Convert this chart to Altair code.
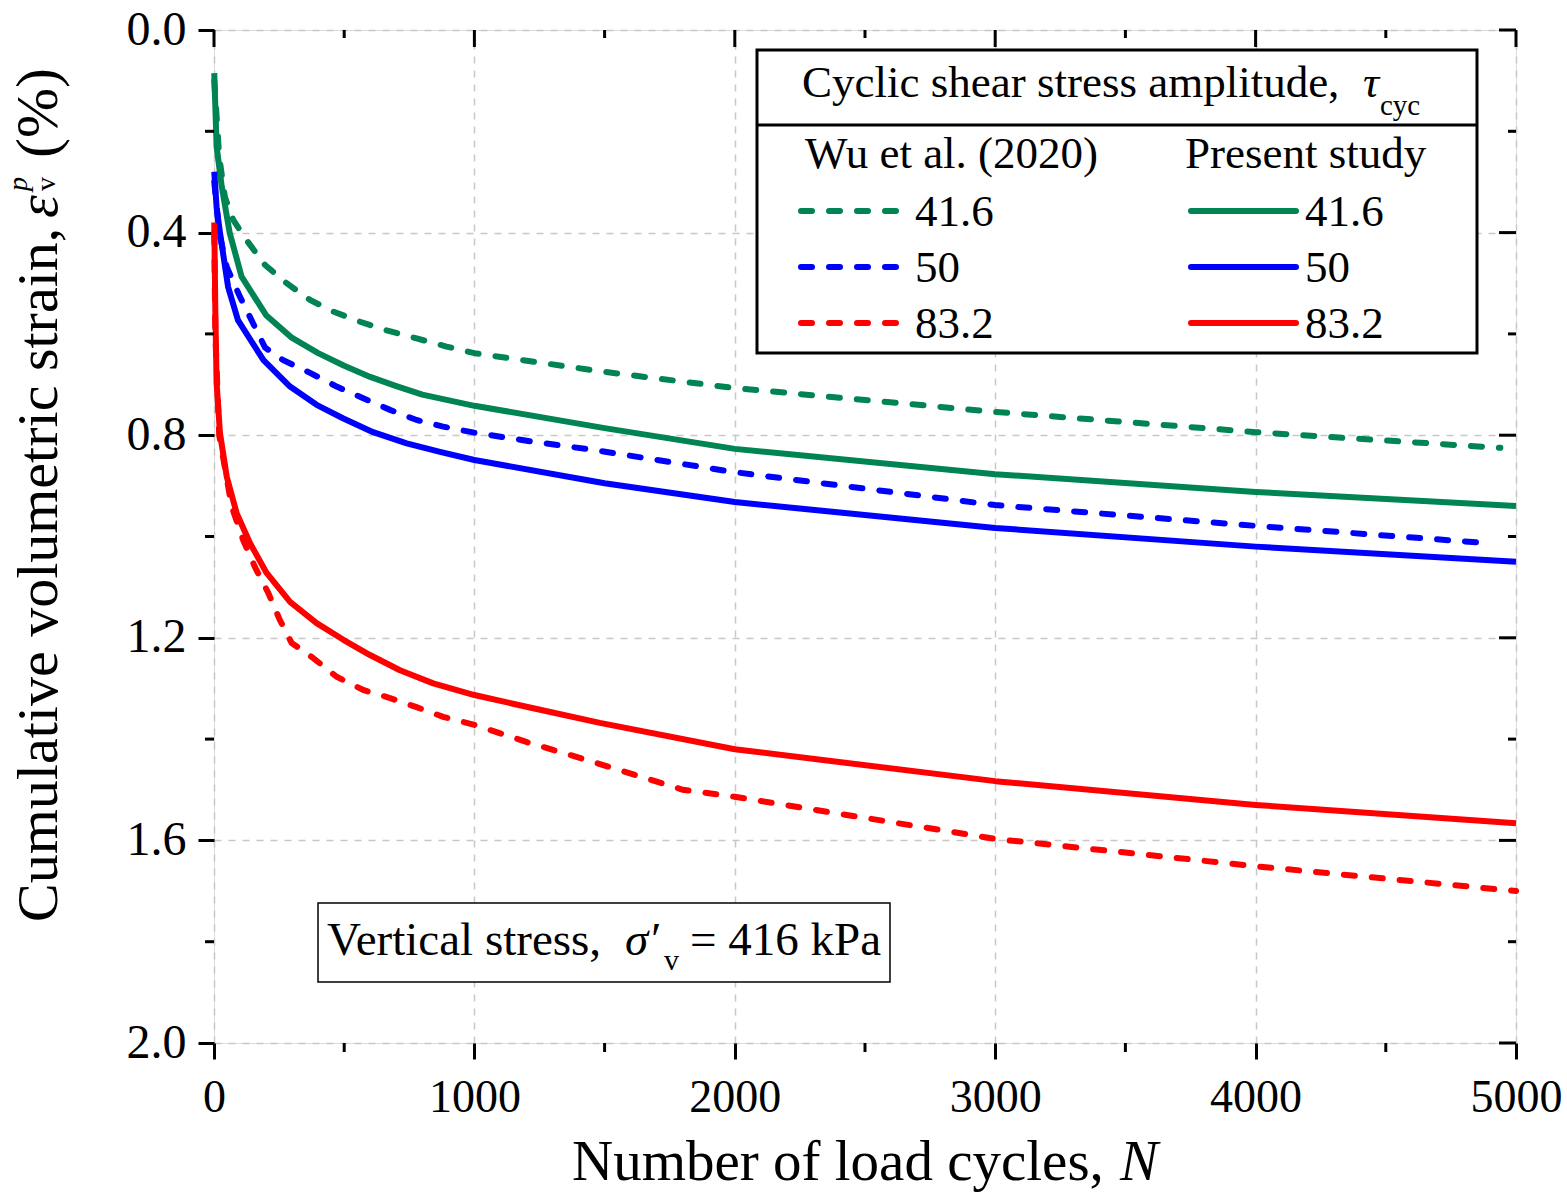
import altair as alt
import pandas as pd

# ---------------- data ----------------
tau_levels = ["41.6", "50", "83.2"]
colors = ["#008453", "#0000FF", "#FF0000"]

# Present study (solid)
ps_416_N = [1, 10, 30, 60, 106, 200, 300, 400, 500, 600, 700, 800, 1000, 1500, 2000, 3000, 4000, 5000]
ps_416_s = [0.085, 0.23, 0.31, 0.40, 0.487, 0.563, 0.608, 0.638, 0.663, 0.685, 0.703, 0.72, 0.742, 0.786, 0.827, 0.877, 0.912, 0.94]

ps_50_N = [1, 10, 23, 54, 92, 190, 292, 394, 497, 611, 740, 868, 1000, 1500, 2000, 3000, 4000, 5000]
ps_50_s = [0.28, 0.35, 0.40, 0.507, 0.573, 0.652, 0.704, 0.74, 0.767, 0.794, 0.816, 0.833, 0.849, 0.895, 0.932, 0.983, 1.02, 1.05]

ps_832_N = [1, 5, 10, 23, 49, 87, 138, 202, 292, 394, 497, 599, 714, 842, 1000, 1226, 1482, 2000, 3000, 4000, 5000]
ps_832_s = [0.38, 0.55, 0.697, 0.796, 0.882, 0.954, 1.013, 1.072, 1.129, 1.171, 1.204, 1.234, 1.264, 1.29, 1.313, 1.339, 1.368, 1.42, 1.483, 1.530, 1.566]

# Wu et al. (2020) (dashed)
wu_416_N = [1, 20, 42, 74, 125, 196, 279, 369, 458, 561, 663, 778, 893, 1000, 1500, 2000, 3000, 4000, 4940]
wu_416_s = [0.10, 0.25, 0.33, 0.375, 0.415, 0.464, 0.50, 0.533, 0.556, 0.576, 0.593, 0.609, 0.625, 0.638, 0.675, 0.707, 0.754, 0.794, 0.825]

wu_50_N = [1, 20, 49, 100, 196, 266, 369, 471, 573, 676, 778, 880, 1000, 1226, 1456, 2000, 3000, 4000, 4890]
wu_50_s = [0.30, 0.40, 0.468, 0.527, 0.627, 0.652, 0.677, 0.704, 0.727, 0.75, 0.77, 0.783, 0.795, 0.813, 0.829, 0.873, 0.938, 0.979, 1.013]

wu_832_N = [1, 5, 20, 68, 112, 157, 209, 253, 298, 381, 471, 573, 676, 778, 880, 1000, 1202, 1456, 1800, 2000, 3000, 4000, 5000]
wu_832_s = [0.40, 0.60, 0.80, 0.941, 1.007, 1.06, 1.112, 1.165, 1.21, 1.24, 1.277, 1.303, 1.319, 1.337, 1.356, 1.372, 1.406, 1.445, 1.50, 1.514, 1.597, 1.651, 1.70]

x_major = [0, 1000, 2000, 3000, 4000, 5000]
x_minor = [500, 1500, 2500, 3500, 4500]
y_major = [0.0, 0.4, 0.8, 1.2, 1.6, 2.0]
y_minor = [0.2, 0.6, 1.0, 1.4, 1.8]

# ---------------- build tables ----------------
def series(Ns, ss, tau):
    return pd.DataFrame({"N": Ns, "s": ss, "tau": tau})

present = pd.concat([series(ps_416_N, ps_416_s, "41.6"),
                     series(ps_50_N, ps_50_s, "50"),
                     series(ps_832_N, ps_832_s, "83.2")])
wu = pd.concat([series(wu_416_N, wu_416_s, "41.6"),
                series(wu_50_N, wu_50_s, "50"),
                series(wu_832_N, wu_832_s, "83.2")])

FONT = "Liberation Serif"
W, H = 1302, 1013
xs = alt.Scale(domain=[0, 5000], nice=False, zero=False)
ys = alt.Scale(domain=[0, 2], reverse=True, nice=False, zero=False)
cs = alt.Scale(domain=tau_levels, range=colors)
LW = 6
DASH = [11, 17]

x_axis = alt.Axis(values=x_major, format="d", title=None, tickSize=16, tickWidth=3,
                  tickColor="black", labelFontSize=46, labelFont=FONT, labelColor="black",
                  labelPadding=16, labelFlush=False, labelOverlap=False, domain=False,
                  grid=True, gridDash=[7, 7], gridColor="#c8c8c8", gridWidth=1.5)
y_axis = alt.Axis(values=y_major, format=".1f", title=None, tickSize=16, tickWidth=3,
                  tickColor="black", labelFontSize=48, labelFont=FONT, labelColor="black",
                  labelPadding=12, labelFlush=False, labelOverlap=False, domain=False,
                  grid=True, gridDash=[7, 7], gridColor="#c8c8c8", gridWidth=1.5)

solid = alt.Chart(present).mark_line(strokeWidth=LW, strokeCap="butt", strokeJoin="round").encode(
    x=alt.X("N:Q", scale=xs, axis=x_axis),
    y=alt.Y("s:Q", scale=ys, axis=y_axis),
    color=alt.Color("tau:N", scale=cs, legend=None),
)
dashed = alt.Chart(wu).mark_line(strokeWidth=LW, strokeDash=DASH, strokeCap="round").encode(
    x=alt.X("N:Q", scale=xs, axis=x_axis),
    y=alt.Y("s:Q", scale=ys, axis=y_axis),
    color=alt.Color("tau:N", scale=cs, legend=None),
)

layers = [solid, dashed]

# ---------------- extra ticks (minor, mirrored top/right) ----------------
def xticks(vals, y0, y1):
    return alt.Chart(pd.DataFrame({"N": vals})).mark_rule(color="black", strokeWidth=3).encode(
        x=alt.X("N:Q", scale=xs, axis=x_axis), y=alt.value(y0), y2=alt.value(y1))

def yticks(vals, x0, x1):
    return alt.Chart(pd.DataFrame({"s": vals})).mark_rule(color="black", strokeWidth=3).encode(
        y=alt.Y("s:Q", scale=ys, axis=y_axis), x=alt.value(x0), x2=alt.value(x1))

layers += [
    xticks(x_minor, H, H + 9),          # bottom minor (outward)
    xticks(x_major, 0, 17),             # top major (inward)
    xticks(x_minor, 0, 8),              # top minor (inward)
    yticks(y_minor, 0, -9),             # left minor (outward)
    yticks(y_major, W, W - 17),         # right major (inward)
    yticks(y_minor, W, W - 8),          # right minor (inward)
]

# ---------------- helpers for annotation text ----------------
def txt(s, x, y, size, italic=False, angle=0, align="left"):
    kw = dict(font=FONT, fontSize=size, color="black", align=align, baseline="alphabetic")
    if italic:
        kw["fontStyle"] = "italic"
    if angle:
        kw["angle"] = angle
    return alt.Chart(pd.DataFrame({"t": [s]})).mark_text(**kw).encode(
        x=alt.value(x), y=alt.value(y), text="t:N")

def box(x0, x1, y0, y1, sw=2.5):
    return alt.Chart(pd.DataFrame({"a": [0]})).mark_rect(fill="white", stroke="black", strokeWidth=sw).encode(
        x=alt.value(x0), x2=alt.value(x1), y=alt.value(y0), y2=alt.value(y1))

# axis titles
layers += [
    txt("Number of load cycles,", 358, 1150, 57),
    txt("N", 906, 1150, 57, italic=True),
    txt("Cumulative volumetric strain,", -157, 892, 58, angle=270),
    txt("\u03b5", -157, 188, 58, italic=True, angle=270),
    txt("p", -187, 161, 28, italic=True, angle=270),
    txt("v", -159, 161, 28, angle=270),
    txt("(%)", -157, 128, 60, angle=270),
]

# legend box
layers += [
    box(543, 1263, 20, 323, 3),
    alt.Chart(pd.DataFrame({"a": [0]})).mark_rule(color="black", strokeWidth=3).encode(
        x=alt.value(543), x2=alt.value(1263), y=alt.value(95)),
    txt("Cyclic shear stress amplitude,", 588, 67, 45),
    txt("\u03c4", 1149, 67, 45, italic=True),
    txt("cyc", 1166, 85, 29),
    txt("Wu et al. (2020)", 591, 138, 45),
    txt("Present study", 971, 138, 45),
]
row_y = [181, 237, 293]
for lab, col, ry in zip(tau_levels, colors, row_y):
    layers.append(alt.Chart(pd.DataFrame({"a": [0]})).mark_rule(
        color=col, strokeWidth=LW, strokeDash=DASH, strokeCap="round").encode(
        x=alt.value(587), x2=alt.value(687), y=alt.value(ry)))
    layers.append(alt.Chart(pd.DataFrame({"a": [0]})).mark_rule(
        color=col, strokeWidth=LW, strokeCap="round").encode(
        x=alt.value(977), x2=alt.value(1082), y=alt.value(ry)))
    layers.append(txt(lab, 701, ry + 15, 45))
    layers.append(txt(lab, 1091, ry + 15, 45))

# vertical stress annotation
layers += [
    box(104, 676, 873, 952, 1.5),
    txt("Vertical stress,", 113, 925, 47),
    txt("\u03c3\u2032", 411, 925, 47, italic=True),
    txt("v", 450, 940, 30),
    txt("= 416 kPa", 476, 925, 47),
]

chart = alt.layer(*layers).properties(
    width=W, height=H,
    padding={"left": 214, "top": 30, "right": 51, "bottom": 149},
    autosize=alt.AutoSizeParams(type="none"),
    background="white",
).configure_view(stroke="black", strokeWidth=3).configure(font=FONT)

chart.save("out.html", embed_options={"renderer": "svg", "actions": False})
